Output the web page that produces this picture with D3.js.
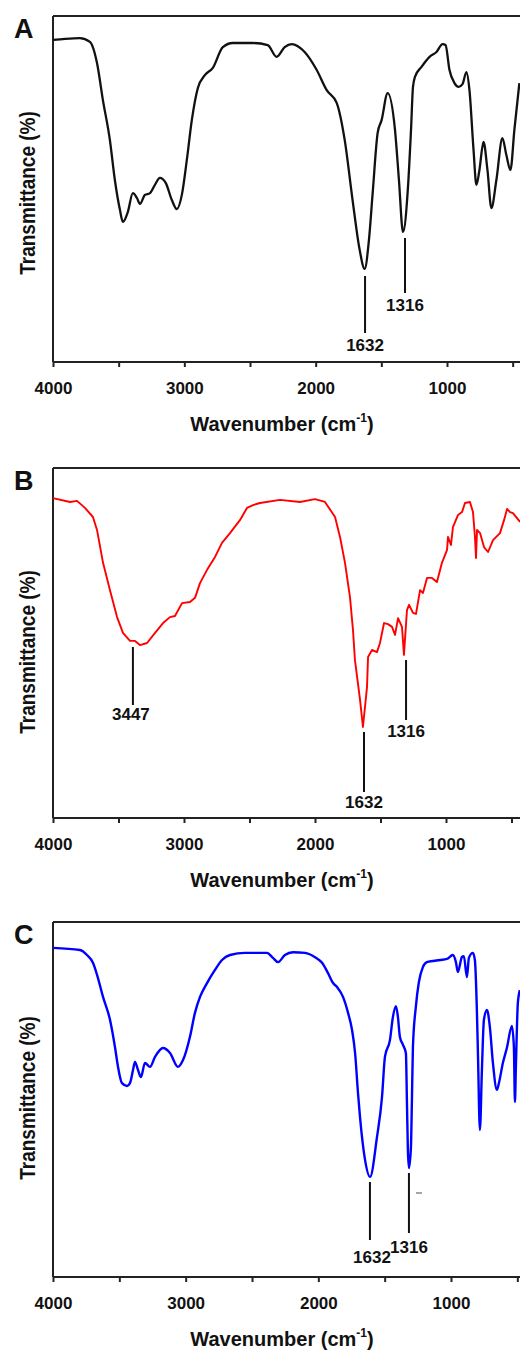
<!DOCTYPE html>
<html><head><meta charset="utf-8">
<script src="https://cdn.jsdelivr.net/npm/d3@7"></script>
<style>
body{margin:0;background:#fff}
svg{display:block}
text{font-family:"Liberation Sans",Arial,sans-serif;font-weight:bold;fill:#111}
</style>
</head><body>
<svg id="chart" width="520" height="1354"></svg>
<script>
// ---------- data ----------
const panelNames = ["A", "B", "C"];
const tickValues = [4000, 3500, 3000, 2500, 2000, 1500, 1000, 500];
const tickLabelValues = [4000, 3000, 2000, 1000];
const xTitleText = "Wavenumber (cm";
const xTitleSup = "-1";
const yTitleText = "Transmittance (%)";

// [wavenumber (cm-1), transmittance (% of plot height)]
const spectrumA = [[4000,93.1],[3909,93.4],[3795,93.6],[3719,92.5],[3665,86.4],[3620,75.7],[3567,64.2],[3529,52.6],[3490,43.9],[3468,40.5],[3430,43.4],[3392,48.8],[3361,47.4],[3338,45.7],[3300,48.3],[3262,48.8],[3224,51.2],[3186,53.2],[3141,51.7],[3095,46.8],[3057,44.2],[3019,48.3],[2981,58.4],[2943,69.9],[2897,79.2],[2844,82.9],[2783,85.0],[2707,91.0],[2631,92.2],[2479,92.2],[2365,91.6],[2297,88.2],[2236,91.0],[2183,91.9],[2084,89.6],[1992,84.4],[1916,78.6],[1840,74.9],[1779,64.2],[1719,46.8],[1665,32.4],[1627,26.9],[1595,35.0],[1566,48.8],[1528,66.2],[1498,69.9],[1452,77.7],[1396,67.1],[1366,52.6],[1335,37.6],[1297,50.6],[1274,67.1],[1259,79.5],[1244,82.4],[1194,85.3],[1133,88.2],[1080,89.6],[1034,91.9],[1011,91.6],[981,84.4],[943,80.6],[912,79.5],[882,80.3],[852,83.8],[829,78.6],[798,61.3],[776,51.2],[753,55.5],[722,63.6],[692,55.5],[662,44.5],[624,52.6],[578,64.7],[548,59.8],[517,55.5],[487,67.1],[449,80.6]];

const spectrumB = [[4000,91.4],[3870,90.3],[3817,90.6],[3756,88.6],[3695,86.0],[3664,82.3],[3618,72.9],[3565,65.1],[3511,57.4],[3466,52.9],[3412,50.6],[3374,50.6],[3336,49.4],[3282,50.0],[3221,52.9],[3160,55.7],[3107,57.4],[3069,57.7],[3015,61.4],[2954,61.7],[2916,62.9],[2878,67.1],[2824,70.9],[2763,74.6],[2710,78.6],[2649,81.4],[2573,85.1],[2519,88.6],[2473,89.4],[2420,90.0],[2267,90.9],[2115,90.3],[2000,91.1],[1924,90.3],[1847,86.0],[1809,80.3],[1771,72.9],[1733,63.1],[1710,53.7],[1695,45.1],[1656,33.7],[1634,26.0],[1603,37.4],[1595,46.0],[1565,48.0],[1527,47.4],[1504,50.0],[1473,55.7],[1443,55.4],[1412,54.6],[1389,52.3],[1366,57.1],[1336,54.6],[1321,46.6],[1298,59.4],[1282,60.9],[1252,58.6],[1229,58.3],[1198,65.1],[1176,64.3],[1145,68.6],[1107,68.6],[1069,67.4],[1031,72.9],[992,76.6],[985,80.3],[962,78.0],[947,83.1],[908,86.6],[878,87.4],[855,90.0],[817,90.3],[794,87.4],[779,80.3],[771,74.3],[763,82.3],[740,81.4],[710,77.4],[679,76.0],[641,79.4],[588,81.4],[557,85.1],[534,88.3],[511,87.4],[489,87.1],[435,84.6]];

const spectrumC = [[4000,92.7],[3797,92.1],[3744,90.7],[3699,88.5],[3668,85.1],[3623,78.9],[3570,72.4],[3533,64.8],[3510,59.2],[3480,54.6],[3442,53.8],[3420,54.6],[3397,58.3],[3382,60.6],[3359,58.3],[3337,56.3],[3307,60.3],[3269,59.2],[3231,62.0],[3171,64.5],[3118,63.1],[3058,59.2],[3020,61.1],[2968,67.6],[2930,74.4],[2892,78.9],[2839,82.8],[2779,86.5],[2726,89.3],[2666,90.7],[2553,91.3],[2440,91.3],[2387,91.3],[2342,89.9],[2304,88.7],[2252,90.7],[2191,91.5],[2101,91.3],[2025,90.1],[1972,88.5],[1927,85.6],[1889,82.8],[1859,81.7],[1814,78.9],[1776,74.4],[1746,69.6],[1723,63.1],[1701,51.8],[1686,45.1],[1648,33.0],[1610,28.2],[1558,39.4],[1520,50.7],[1498,62.0],[1460,66.8],[1438,73.2],[1415,76.3],[1400,73.2],[1385,67.6],[1362,65.4],[1340,63.1],[1332,49.0],[1325,35.8],[1317,30.7],[1302,36.6],[1295,49.0],[1287,64.8],[1265,76.1],[1242,83.1],[1212,87.3],[1182,88.7],[1136,89.0],[1084,89.3],[1031,89.6],[986,90.7],[963,88.7],[948,85.9],[918,90.1],[903,90.4],[880,84.5],[865,89.9],[835,91.3],[820,89.3],[805,75.2],[797,63.1],[782,41.4],[767,58.3],[752,72.4],[729,75.2],[707,70.4],[684,60.3],[654,52.7],[639,54.6],[609,60.3],[579,64.5],[541,70.7],[526,64.8],[518,49.3],[511,59.2],[496,77.2],[481,80.8]];

// peak annotations: label and wavenumber where the marker line sits
const peaksA = [{label:"1632", w:1624}, {label:"1316", w:1320}];
const peaksB = [{label:"3447", w:3390}, {label:"1632", w:1626}, {label:"1316", w:1305}];
const peaksC = [{label:"1632", w:1611}, {label:"1316", w:1317}];

// ---------- layout ----------
const panels = [
  {name: panelNames[0], data: spectrumA, peaks: peaksA, top: 16, bottom: 362, x1000: 447,
   color: "#111", sw: 2.3, curve: d3.curveMonotoneX,
   ann: [{y1:260, y2:317, ty:335, dx:0}, {y1:222, y2:277, ty:295, dx:0}], yTitleC: 193},
  {name: panelNames[1], data: spectrumB, peaks: peaksB, top: 468, bottom: 818, x1000: 446,
   color: "#ff0000", sw: 1.9, curve: d3.curveLinear,
   ann: [{y1:179, y2:237, ty:252, dx:-2}, {y1:264, y2:324, ty:340, dx:0}, {y1:192, y2:252, ty:269, dx:0}], yTitleC: 652},
  {name: panelNames[2], data: spectrumC, peaks: peaksC, top: 922, bottom: 1277, x1000: 451,
   color: "#0000ff", sw: 2.4, curve: d3.curveMonotoneX,
   ann: [{y1:260, y2:318, ty:341, dx:2}, {y1:251, y2:311, ty:331, dx:0}], yTitleC: 1098}
];
const left = 53, W = 520;

const svg = d3.select("#chart");
svg.append("rect").attr("width", 520).attr("height", 1354).attr("fill", "#fff");

panels.forEach((p, i) => {
  const x = d3.scaleLinear().domain([4000, 1000]).range([left, p.x1000]);
  const y = d3.scaleLinear().domain([0, 100]).range([p.bottom, p.top]);
  const g = svg.append("g");

  // frame: top line, left axis
  g.append("line").attr("x1", left).attr("x2", W).attr("y1", p.top).attr("y2", p.top)
    .attr("stroke", "#222").attr("stroke-width", 2);
  g.append("line").attr("x1", left).attr("x2", left).attr("y1", p.top).attr("y2", p.bottom)
    .attr("stroke", "#222").attr("stroke-width", 2);

  // bottom axis
  const axis = d3.axisBottom(x).tickValues(tickValues).tickSize(5)
    .tickFormat(d => tickLabelValues.includes(d) ? d3.format("d")(d) : "");
  const ag = g.append("g").attr("transform", `translate(0,${p.bottom})`).call(axis);
  ag.select(".domain").attr("d", `M${left},0H${W}`).attr("stroke", "#222").attr("stroke-width", 2);
  ag.selectAll(".tick line").attr("stroke", "#222").attr("stroke-width", 2);
  ag.selectAll(".tick text").attr("y", 0).attr("dy", 32).attr("font-size", 17)
    .attr("font-family", '"Liberation Sans", Arial, sans-serif').attr("font-weight", "bold").attr("fill", "#111");

  // curve
  const line = d3.line().x(d => x(d[0])).y(d => y(d[1])).curve(p.curve);
  g.append("path").datum(p.data).attr("d", line).attr("fill", "none")
    .attr("stroke", p.color).attr("stroke-width", p.sw).attr("stroke-linejoin", "round");

  // peak annotations
  p.peaks.forEach((pk, j) => {
    const a = p.ann[j];
    const px = x(pk.w);
    g.append("line").attr("x1", px).attr("x2", px)
      .attr("y1", p.top + a.y1).attr("y2", p.top + a.y2)
      .attr("stroke", "#111").attr("stroke-width", 2);
    g.append("text").attr("x", px + a.dx).attr("y", p.top + a.ty)
      .attr("text-anchor", "middle").attr("font-size", 17).text(pk.label);
  });

  // panel letter
  g.append("text").attr("x", 14).attr("y", p.top + 22).attr("font-size", 27).text(p.name);

  // y title
  g.append("text").attr("transform", `translate(35,${p.yTitleC}) rotate(-90) scale(1,1.2)`)
    .attr("text-anchor", "middle").attr("font-size", 19).text(yTitleText);

  // x title
  const t = g.append("text").attr("x", 282).attr("y", p.bottom + 69)
    .attr("text-anchor", "middle").attr("font-size", 20);
  t.append("tspan").text(xTitleText);
  t.append("tspan").attr("font-size", 12).attr("dy", -9).text(xTitleSup);
  t.append("tspan").attr("dy", 9).text(")");
});

// small stray mark in panel C
svg.append("line").attr("x1", 416).attr("x2", 422).attr("y1", 1193).attr("y2", 1193)
  .attr("stroke", "#888").attr("stroke-width", 1.5);
</script>
</body></html>
